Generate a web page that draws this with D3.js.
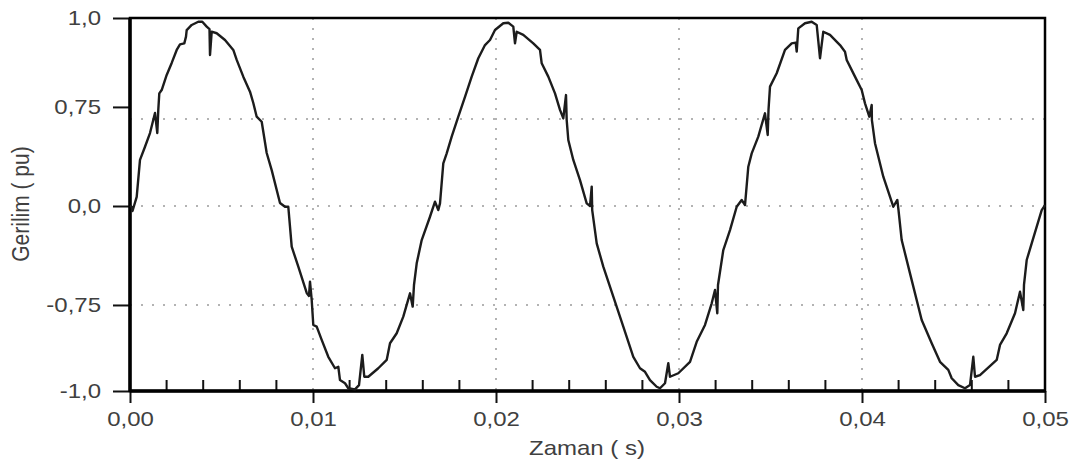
<!DOCTYPE html>
<html>
<head>
<meta charset="utf-8">
<script src="https://cdn.jsdelivr.net/npm/d3@7/dist/d3.min.js"></script>
<style>
	body { margin: 0; background: #fff; }
	.etiket { font-family: "Liberation Sans", Arial, sans-serif; font-size: 20px; fill: #404040; }
</style>
</head>
<body>
<div id="grafik"></div>
<script>

// tick labels (comma decimals, as in the original figure)
var x_ticks= [0, 0.01, 0.02, 0.03, 0.04, 0.05];
var x_labels= ["0,00", "0,01", "0,02", "0,03", "0,04", "0,05"];

// the y labels are not placed at their nominal values in the source figure
var y_ticks= [1, 0.527, 0, -0.535, -1];
var y_labels= ["1,0", "0,75", "0,0", "-0,75", "-1,0"];
var y_grid= [0.463, 0, -0.535];

// measured waveform: [time (ms), voltage (pu)]
var gerilim= [
	[0, 0], [0.093, -0.004], [0.137, -0.027], [0.366, 0.049], [0.546, 0.245],
	[0.820, 0.315], [1.093, 0.388], [1.366, 0.495], [1.492, 0.388], [1.546, 0.511],
	[1.601, 0.599], [1.732, 0.617], [2.005, 0.697], [2.279, 0.761], [2.552, 0.830],
	[2.732, 0.860], [2.967, 0.865], [3.060, 0.901], [3.098, 0.936], [3.372, 0.963],
	[3.732, 0.980], [3.951, 0.980], [4.191, 0.954], [4.344, 0.941], [4.372, 0.803],
	[4.464, 0.927], [4.738, 0.919], [5.191, 0.883], [5.645, 0.830], [5.831, 0.777],
	[6.191, 0.688], [6.557, 0.608], [6.738, 0.548], [6.923, 0.475], [7.197, 0.448],
	[7.470, 0.282], [7.743, 0.191], [8.197, 0.016], [8.470, -0.004], [8.650, -0.004],
	[8.743, -0.112], [8.836, -0.220], [9.197, -0.328], [9.656, -0.470], [9.781, -0.486],
	[9.836, -0.409], [9.929, -0.508], [10.016, -0.643], [10.202, -0.652], [10.475, -0.724],
	[10.836, -0.815], [11.202, -0.877], [11.383, -0.869], [11.475, -0.941], [11.749, -0.958],
	[11.929, -0.985], [12.295, -0.991], [12.514, -0.968], [12.694, -0.805], [12.803, -0.923],
	[13.022, -0.923], [13.568, -0.877], [14.027, -0.832], [14.208, -0.742], [14.574, -0.688],
	[14.934, -0.598], [15.301, -0.472], [15.448, -0.544], [15.519, -0.427], [15.667, -0.310],
	[15.940, -0.184], [16.393, -0.058], [16.667, 0.023], [16.847, -0.022], [16.940, 0.014],
	[17.120, 0.227], [17.306, 0.280], [17.579, 0.369], [17.940, 0.475], [18.306, 0.581],
	[18.672, 0.688], [19.033, 0.786], [19.399, 0.856], [19.672, 0.883], [19.945, 0.936],
	[20.399, 0.972], [20.672, 0.975], [20.945, 0.954], [21.038, 0.865], [21.131, 0.927],
	[21.492, 0.910], [22.038, 0.865], [22.404, 0.830], [22.497, 0.759], [22.858, 0.688],
	[23.224, 0.599], [23.497, 0.511], [23.678, 0.466], [23.825, 0.590], [23.863, 0.457],
	[23.951, 0.351], [24.224, 0.245], [24.590, 0.138], [24.956, 0.014], [25.137, 0],
	[25.230, 0.103], [25.257, -0.022], [25.503, -0.202], [25.863, -0.328], [26.410, -0.490],
	[26.956, -0.652], [27.503, -0.815], [27.869, -0.877], [28.142, -0.896], [28.415, -0.941],
	[28.781, -0.977], [28.962, -0.985], [29.235, -0.958], [29.415, -0.850], [29.508, -0.923],
	[29.962, -0.904], [30.601, -0.842], [30.967, -0.734], [31.421, -0.643], [31.787, -0.526],
	[31.967, -0.454], [32.093, -0.580], [32.131, -0.427], [32.421, -0.238], [32.787, -0.130],
	[33.153, -0.004], [33.426, 0.032], [33.607, 0.005], [33.787, 0.209], [33.973, 0.280],
	[34.333, 0.369], [34.699, 0.493], [34.847, 0.378], [34.891, 0.511], [34.973, 0.635],
	[35.339, 0.706], [35.792, 0.830], [36.158, 0.865], [36.377, 0.869], [36.432, 0.821],
	[36.519, 0.945], [36.885, 0.972], [37.251, 0.980], [37.524, 0.963], [37.705, 0.786],
	[37.885, 0.927], [38.251, 0.910], [38.798, 0.856], [39.071, 0.821], [39.164, 0.777],
	[39.617, 0.688], [39.984, 0.617], [40.164, 0.546], [40.399, 0.475], [40.530, 0.537],
	[40.541, 0.457], [40.710, 0.334], [41.164, 0.156], [41.710, -0.004], [41.929, 0.032],
	[41.995, -0.022], [42.169, -0.184], [42.623, -0.364], [43.262, -0.616], [43.809, -0.742],
	[44.262, -0.842], [44.716, -0.886], [44.902, -0.931], [45.262, -0.968], [45.628, -0.985],
	[45.902, -0.968], [46.082, -0.815], [46.175, -0.923], [46.448, -0.914], [47.361, -0.832],
	[47.541, -0.751], [47.907, -0.688], [48.361, -0.580], [48.634, -0.463], [48.814, -0.562],
	[48.852, -0.427], [49.000, -0.292], [49.273, -0.202], [49.820, -0.022], [50.000, 0.005]
];

var width= 1074;
var height= 463;

var left= 130, right= 1045, top_= 18, bottom= 391;
var stretch= "scale(1.2,1)";

var x= d3.scaleLinear().domain([0, 0.05]).range([left, right]);
var y= d3.scaleLinear().domain([-1, 0, 1]).range([bottom, 206, top_]);

var canvas= d3.select("#grafik")
		.append("svg")
		.attr("width", width)
		.attr("height", height);

// dotted grid
canvas.append("g")
	.selectAll("line")
	.data(y_grid)
	.join("line")
		.attr("x1", left)
		.attr("x2", right)
		.attr("y1", d => y(d))
		.attr("y2", d => y(d))
		.attr("stroke", "#9a9a9a")
		.attr("stroke-width", 1.5)
		.attr("stroke-dasharray", "2,9");

canvas.append("g")
	.selectAll("line")
	.data(x_ticks.slice(1, -1))
	.join("line")
		.attr("x1", d => x(d))
		.attr("x2", d => x(d))
		.attr("y1", top_)
		.attr("y2", bottom)
		.attr("stroke", "#9a9a9a")
		.attr("stroke-width", 1.5)
		.attr("stroke-dasharray", "2,8");

// minor ticks, pointing inward from the bottom axis
var minor= d3.range(1, 25).map(i => i*0.002).filter((d, i) => (i+ 1)% 5 != 0);

canvas.append("g")
	.selectAll("line")
	.data(minor)
	.join("line")
		.attr("x1", d => x(d))
		.attr("x2", d => x(d))
		.attr("y1", bottom)
		.attr("y2", bottom- 11)
		.attr("stroke", "#111")
		.attr("stroke-width", 2);

// axes
var x_axis= canvas.append("g")
	.attr("transform", "translate(0," + bottom + ")")
	.call(d3.axisBottom(x)
		.tickValues(x_ticks)
		.tickFormat((d, i) => x_labels[i])
		.tickSize(12)
		.tickPadding(9));

var y_axis= canvas.append("g")
	.attr("transform", "translate(" + left + ",0)")
	.call(d3.axisLeft(y)
		.tickValues(y_ticks)
		.tickFormat((d, i) => y_labels[i])
		.tickSize(17)
		.tickPadding(12));

canvas.selectAll(".domain").remove();
canvas.selectAll(".tick line").attr("stroke", "#111").attr("stroke-width", 2);
canvas.selectAll(".tick text")
	.attr("class", "etiket")
	.attr("font-family", null)
	.attr("font-size", null);

x_axis.selectAll(".tick text").attr("transform", stretch);

y_axis.selectAll(".tick text")
	.attr("x", 0)
	.attr("transform", "translate(-29,0) " + stretch);

// frame
canvas.append("rect")
	.attr("x", left)
	.attr("y", top_)
	.attr("width", right- left)
	.attr("height", bottom- top_)
	.attr("fill", "none")
	.attr("stroke", "#000")
	.attr("stroke-width", 2.5);

canvas.append("line")
	.attr("x1", left).attr("x2", left)
	.attr("y1", top_).attr("y2", bottom+ 1)
	.attr("stroke", "#000").attr("stroke-width", 3.5);

canvas.append("line")
	.attr("x1", left).attr("x2", right)
	.attr("y1", bottom).attr("y2", bottom)
	.attr("stroke", "#000").attr("stroke-width", 3.5);

// waveform
var line= d3.line()
	.x(d => x(d[0]/ 1000))
	.y(d => y(d[1]));

canvas.append("path")
	.datum(gerilim)
	.attr("d", line)
	.attr("fill", "none")
	.attr("stroke", "#1c1c1c")
	.attr("stroke-width", 2.4)
	.attr("stroke-linejoin", "round");

// axis titles
canvas.append("text")
	.attr("class", "etiket")
	.attr("text-anchor", "middle")
	.attr("transform", "translate(587,455) " + stretch)
	.text("Zaman ( s)");

canvas.append("text")
	.attr("class", "etiket")
	.attr("text-anchor", "middle")
	.attr("transform", "translate(29,204) scale(1.15,1) rotate(-90)")
	.style("font-size", "21px")
	.text("Gerilim ( pu)");

</script>
</body>
</html>
